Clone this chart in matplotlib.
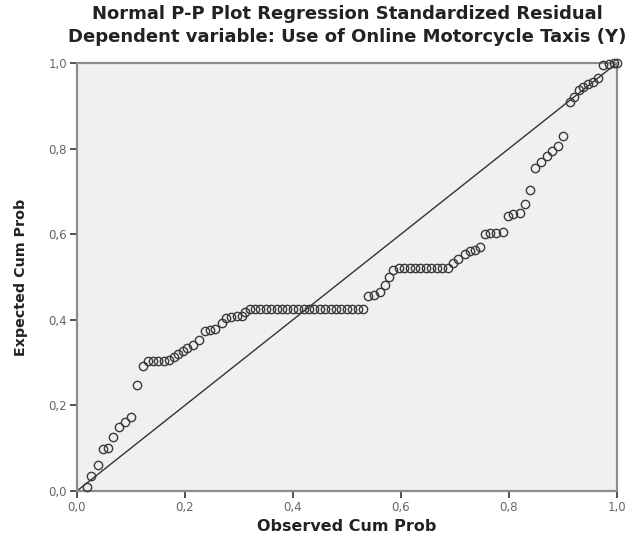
import numpy as np
import matplotlib.pyplot as plt
from matplotlib.ticker import FuncFormatter

plt.rcParams['font.family'] = ['DejaVu Sans']

title_lines = ["Normal P-P Plot Regression Standardized Residual",
               "Dependent variable: Use of Online Motorcycle Taxis (Y)"]

# observed cum prob (x) / expected cum prob (y)
observed = [0.018, 0.027, 0.040, 0.049, 0.058, 0.067, 0.078, 0.089, 0.100, 0.112, 0.122,
            0.131, 0.141, 0.151, 0.161, 0.171,
            0.180, 0.188, 0.196, 0.204, 0.215, 0.227, 0.237, 0.246, 0.256, 0.268,
            0.277, 0.286, 0.296, 0.305, 0.312,
            0.320, 0.330, 0.340, 0.350, 0.360, 0.370, 0.380, 0.390, 0.400, 0.410, 0.420,
            0.430, 0.440, 0.450, 0.460, 0.470, 0.480, 0.490, 0.500, 0.510, 0.520, 0.530,
            0.540, 0.550, 0.561, 0.570, 0.578, 0.586,
            0.596, 0.606, 0.616, 0.626, 0.636, 0.646, 0.656, 0.666, 0.677, 0.688,
            0.697, 0.706, 0.719, 0.728, 0.737, 0.746, 0.756, 0.765, 0.776, 0.789,
            0.799, 0.808, 0.820, 0.830, 0.839, 0.848, 0.860, 0.870, 0.880, 0.890,
            0.901, 0.913, 0.920, 0.930, 0.938, 0.947, 0.956, 0.965,
            0.975, 0.985, 0.995, 1.000]
expected = [0.010, 0.035, 0.061, 0.098, 0.100, 0.127, 0.149, 0.162, 0.174, 0.248, 0.292,
            0.303, 0.304, 0.304, 0.304, 0.305,
            0.312, 0.320, 0.326, 0.334, 0.342, 0.353, 0.375, 0.377, 0.378, 0.392,
            0.405, 0.407, 0.408, 0.409, 0.418,
            0.425, 0.425, 0.425, 0.425, 0.425, 0.425, 0.425, 0.425, 0.425, 0.425, 0.425,
            0.425, 0.425, 0.425, 0.425, 0.425, 0.425, 0.425, 0.425, 0.425, 0.425, 0.425,
            0.456, 0.459, 0.465, 0.482, 0.500, 0.516,
            0.521, 0.521, 0.521, 0.521, 0.521, 0.521, 0.521, 0.521, 0.521, 0.521,
            0.533, 0.542, 0.554, 0.560, 0.564, 0.570, 0.601, 0.603, 0.603, 0.604,
            0.642, 0.648, 0.650, 0.671, 0.704, 0.755, 0.768, 0.782, 0.794, 0.807,
            0.830, 0.909, 0.921, 0.936, 0.944, 0.952, 0.956, 0.964,
            0.995, 0.998, 1.000, 1.000]

ticks = [0.0, 0.2, 0.4, 0.6, 0.8, 1.0]

fig = plt.figure(figsize=(6.4, 5.44), dpi=100)
ax = fig.add_axes([0.120, 0.0974, 0.844, 0.7868])
ax.set_facecolor('#f0f0f0')

ax.plot([0, 1], [0, 1], color='#333333', lw=1.0, zorder=2)
ax.plot(observed, expected, linestyle='none', marker='o', markersize=6,
        markerfacecolor='none', markeredgecolor='#3a3a3a', markeredgewidth=1.0,
        zorder=3, clip_on=False)

ax.set_xlim(0, 1)
ax.set_ylim(0, 1)
ax.set_xticks(ticks)
ax.set_yticks(ticks)
fmt = FuncFormatter(lambda v, p: ("%.1f" % v).replace('.', ','))
ax.xaxis.set_major_formatter(fmt)
ax.yaxis.set_major_formatter(fmt)
ax.tick_params(length=5, width=1.2, color='#333333', labelsize=8.5, labelcolor='#666666', pad=2)
for s in ax.spines.values():
    s.set_color('#8c8c8c')
    s.set_linewidth(1.6)

ax.set_xlabel("Observed Cum Prob", fontsize=11.5, fontweight='bold', labelpad=4, color='#222222')
ax.set_ylabel("Expected Cum Prob", fontsize=10.3, fontweight='bold', color='#222222')
ax.yaxis.set_label_coords(-0.09, 0.5)

fig.text(0.542, 0.975, title_lines[0], ha='center', va='center', fontsize=13, fontweight='bold', color='#222222')
fig.text(0.542, 0.932, title_lines[1], ha='center', va='center', fontsize=13, fontweight='bold', color='#222222')

fig.savefig('out.png', dpi=100)
